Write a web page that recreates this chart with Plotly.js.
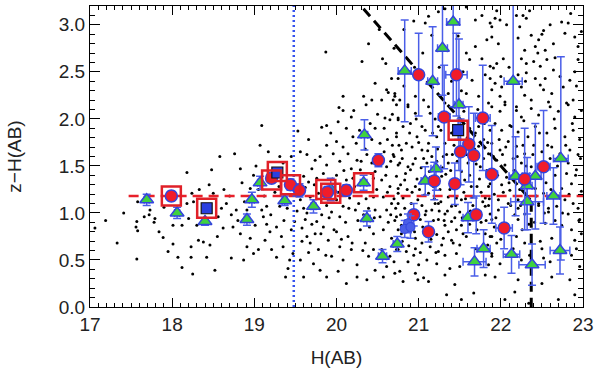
<!DOCTYPE html>
<html><head><meta charset="utf-8">
<script src="https://cdn.plot.ly/plotly-3.0.1.min.js"></script>
<style>html,body{margin:0;padding:0;background:#fff}#chart{width:600px;height:380px}</style>
</head><body><div id="chart"></div>
<script>
// ---- background galaxies (H, z-H) ----
const bgLeft = [[17.06,0.84],[17.19,0.92],[17.33,0.68],[17.41,1.0],[17.57,0.51],[17.57,0.91],[17.56,0.85],[17.58,0.81],[17.58,1.12],[17.66,0.96],[17.72,0.98],[17.73,1.03],[17.79,0.94],[17.78,0.90],[17.84,0.80],[17.89,0.74],[17.95,0.59],[17.90,1.06],[18.01,0.87],[18.01,0.67],[18.07,0.53],[18.12,0.42],[18.12,0.87],[18.18,1.43],[18.18,1.10],[18.2,0.94],[18.23,0.64],[18.23,0.53],[18.25,0.35],[18.24,1.21],[18.26,1.12],[18.30,0.87],[18.32,0.71],[18.33,1.25],
[18.5,1.21],[18.56,0.96],[18.60,1.05],[18.66,1.10],[18.72,0.98],[18.74,0.85],[18.83,0.78],[18.95,0.73],[18.99,0.57],[19.05,0.61],[18.52,0.39],[18.42,0.53],[18.38,0.69],[18.87,0.50],[18.72,0.52],[18.62,0.84],[18.78,1.03],[18.91,1.03],[18.95,1.26],[18.83,1.47],[18.85,1.32],[18.99,1.40],[18.58,1.60],[18.48,1.46],[18.46,0.66],[18.91,0.64],[19.01,0.87],[18.63,1.25],[18.70,1.18],[18.45,1.30],[18.88,1.12],[18.55,0.75],[18.80,0.92],[18.76,1.63],[19.07,1.72],[19.09,1.93]];
const bgMidA = [[19.17,1.65],[19.31,1.60],[19.35,1.53],[19.11,0.96],[19.19,0.80],[19.27,0.85],[19.33,0.75],[19.35,0.64],[19.43,0.50],[19.41,0.41],[19.38,0.32],[19.47,0.57],[19.13,0.71],[19.21,0.61],[19.27,0.53],[19.09,1.03],[19.15,1.07],[19.45,0.82],[19.49,0.91],[19.31,1.07],[19.05,1.25],[19.12,1.18],[19.25,1.22],[19.40,1.05],[19.20,0.98],[19.36,0.92],[19.15,0.88],[19.02,1.50],[19.45,1.60],[19.30,1.28]];
const bgMidB = [[19.56,1.65],[19.64,1.62],[19.74,1.56],[19.70,1.47],[19.80,1.60],[19.88,1.51],[19.96,1.63],[20.04,1.55],[20.14,1.63],[20.18,1.47],[20.25,1.56],[20.29,1.46],[20.37,1.62],[20.43,1.53],[20.47,1.44],[19.60,1.39],[19.66,1.33],[19.76,1.37],[19.84,1.42],[20.0,1.40],[20.12,1.35],[20.20,1.37],[20.45,1.37],
[19.56,1.14],[19.60,1.05],[19.64,1.00],[19.68,1.17],[19.78,1.21],[19.82,0.98],[19.88,1.08],[19.94,1.01],[20.0,1.14],[20.04,0.96],[20.08,1.07],[20.16,1.16],[20.23,1.03],[20.27,1.10],[20.33,0.98],[20.39,1.05],[20.45,1.17],[20.47,1.03],[19.62,0.93],[19.76,0.91],
[19.58,0.84],[19.64,0.75],[19.68,0.68],[19.74,0.78],[19.78,0.61],[19.84,0.85],[19.90,0.71],[19.94,0.54],[20.0,0.80],[20.04,0.64],[20.08,0.50],[20.14,0.75],[20.18,0.61],[20.25,0.45],[20.29,0.82],[20.35,0.68],[20.39,0.54],[20.45,0.78],[20.47,0.39],[19.72,0.46],[19.80,0.39],[19.88,0.32],[20.02,0.38],[20.12,0.25],[19.56,0.50],[19.60,0.32],[20.25,0.32],[20.37,0.29],[20.45,0.61]];
const bgMidUp = [[19.53,1.87],[19.88,1.93],[19.82,1.91],[20.02,1.97],[20.08,2.24],[20.03,2.12],[20.08,2.09],[20.21,2.09],[20.18,2.02],[20.2,1.81],[20.31,2.61],[20.39,2.80],[20.33,2.24],[20.43,2.20],[20.47,2.38],[19.87,2.71],[19.88,1.72],[20.0,1.76],[20.08,1.70],[20.43,1.78],[20.53,1.74],[20.73,1.85],[20.36,2.15],[20.41,1.95],[20.28,1.88],[20.47,1.90],
[20.56,2.64],[20.6,2.59],[20.67,2.43],[20.61,2.31],[20.63,2.28],[20.71,2.27],[20.69,2.20],[20.73,2.15],[20.59,2.01],[20.65,1.99],[20.75,2.01],[20.58,1.65],[20.62,1.78],[20.68,1.72],[20.7,1.6]];
const bgCore = [[20.53,1.60],[20.61,1.49],[20.69,1.62],[20.75,1.51],[20.55,1.35],[20.65,1.28],[20.73,1.39],[20.57,1.17],[20.67,1.10],[20.75,1.21],[20.53,0.96],[20.61,1.03],[20.71,0.92],[20.57,0.82],[20.67,0.73],[20.75,0.82],[20.55,0.61],[20.65,0.54],[20.73,0.61],[20.61,0.43],[20.71,0.36],[20.57,0.32],
[20.75,1.99],[20.81,1.92],[20.73,1.81],[20.85,1.74],[20.79,1.67],[20.92,1.70],[20.98,1.81],[21.04,1.67],[20.96,1.58],[20.77,1.53],[20.87,1.49],[20.90,1.46],[21.10,1.53],[21.16,1.60],[21.12,1.74],[21.22,1.81],[21.08,1.88],[20.96,2.06],[20.87,2.13],[21.14,2.06],[21.24,1.92],[21.32,1.74],[21.36,1.53],[21.28,1.39],[21.12,1.21],[20.96,1.28],[20.83,1.35],[20.75,1.26],[21.26,1.25],[21.52,1.44],[21.60,1.53],[21.75,1.49],[21.85,1.63],[21.79,1.78],[21.69,1.85],[21.87,1.88],[21.56,1.35],[21.71,1.28],[21.85,1.28],[21.36,1.17],[21.65,1.17],[20.81,1.16],[20.99,1.14],[21.20,1.10],[21.52,1.14],[21.81,1.16],[21.89,1.39],[21.42,1.33],[21.73,1.71],[21.30,1.60]];
const bgUpRight = [[20.94,3.04],[21.08,3.02],[21.12,3.09],[21.24,3.14],[21.32,3.17],[21.16,2.89],[21.58,3.19],[21.69,3.05],[21.77,3.10],[21.89,2.98],[21.83,2.84],[21.69,2.77],[21.58,2.70],[21.62,2.63],[21.77,2.64],[21.87,2.56],[21.81,2.47],[20.75,2.43],[20.71,2.24],[20.77,2.20],[20.87,2.15],[20.96,2.24],[21.06,2.20],[21.12,2.13],[21.32,2.17],[21.36,2.27],[21.58,2.27],[21.73,2.24],[21.85,2.17],[21.65,2.41],[21.54,2.50],
[21.87,3.02],[21.93,3.07],[21.99,3.05],[22.07,3.0],[22.19,3.10],[22.27,3.10],[22.31,3.07],[22.23,2.98],[21.97,2.80],[21.89,2.87],[22.21,2.86],[22.37,2.89],[22.46,2.84],[22.52,2.94],[22.60,3.0],[22.74,3.03],[22.82,3.02],[22.90,2.87],[22.78,2.91],[22.64,2.80],[22.54,2.73],[22.42,2.77],[22.29,2.73],[22.25,2.64],[22.31,2.59],[22.40,2.61],[22.48,2.56],[22.56,2.63],[22.64,2.52],[22.54,2.43],[22.42,2.43],[22.31,2.49],[22.21,2.47],[22.03,2.64],[21.95,2.59],[21.91,2.54],[21.87,2.43],[21.93,2.38],[22.01,2.34],[21.89,2.31],[21.99,2.24],[22.05,2.18],[22.25,2.34],[22.29,2.25],[22.37,2.20],[22.48,2.36],[22.52,2.31],[22.62,2.27],[22.76,2.34],[22.84,2.41],[22.90,2.50],[22.88,2.20],[22.80,2.17],[22.94,2.63],[22.94,2.77],[22.98,2.93],[22.58,2.18],[22.19,2.13]];
const bgRightMid = [[21.89,2.13],[21.99,2.08],[22.05,2.15],[22.19,2.09],[22.25,2.02],[22.37,2.11],[22.46,2.04],[22.60,2.13],[22.70,2.08],[22.82,2.15],[22.90,2.02],[22.98,2.09],[21.93,1.95],[22.01,1.88],[22.11,1.93],[22.21,1.86],[22.33,1.81],[22.42,1.92],[22.56,1.85],[22.66,1.90],[22.78,1.81],[22.88,1.88],[22.96,1.78],[21.89,1.74],[21.99,1.67],[22.09,1.76],[22.19,1.71],[22.29,1.63],[22.40,1.72],[22.50,1.65],[22.62,1.70],[22.72,1.63],[22.84,1.67],[22.94,1.62],[21.95,1.56],[22.05,1.51],[22.15,1.58],[22.25,1.53],[22.37,1.49],[22.60,1.58],[22.82,1.53],[22.92,1.46],[21.87,1.31],[22.01,1.30],[22.11,1.24],[22.42,1.26],[22.52,1.21],[22.74,1.26],[22.86,1.31],[22.98,1.23],[21.97,1.14],[22.21,1.14],[22.46,1.10],[22.78,1.14]];
const bgLow = [[20.75,1.10],[20.83,1.05],[21.04,1.08],[21.16,1.03],[21.24,1.10],[21.32,0.99],[21.40,1.07],[21.50,1.01],[21.81,1.07],[21.87,0.99],[20.73,0.96],[20.79,0.87],[21.02,0.93],[21.08,0.98],[21.24,0.93],[21.32,0.87],[21.40,0.91],[21.46,0.82],[21.52,0.87],[21.22,0.77],[21.30,0.73],[21.40,0.71],[21.50,0.66],[21.58,0.75],[20.96,0.73],[21.04,0.68],[20.79,0.78],[20.75,0.61],[20.85,0.59],[20.96,0.62],[21.14,0.64],[21.24,0.59],[21.32,0.55],[21.46,0.57],[20.87,0.48],[21.0,0.45],[21.10,0.50],[21.22,0.46],[21.38,0.41],[21.50,0.43],[21.85,0.45],[20.77,0.38],[20.96,0.36],[21.06,0.31],[21.32,0.34],[20.81,0.27],[20.99,0.29],[21.12,0.27],[21.44,0.24],[21.67,0.15],[21.52,0.08],[21.34,0.13],[21.81,0.34],[21.89,0.57],[21.89,0.75],[21.81,0.78],
[21.85,1.08],[21.97,1.03],[22.09,1.10],[22.21,1.05],[22.29,0.99],[22.46,1.08],[22.58,1.01],[22.68,1.07],[22.82,0.99],[22.94,1.05],[21.89,0.93],[22.21,0.93],[22.54,0.89],[22.74,0.87],[22.86,0.82],[22.96,0.93],[21.87,0.75],[21.95,0.68],[22.19,0.75],[22.29,0.68],[22.48,0.70],[22.62,0.73],[22.90,0.71],[22.98,0.78],[21.89,0.54],[21.99,0.46],[22.25,0.50],[22.52,0.52],[22.86,0.55],[22.96,0.43],[21.93,0.32],[22.21,0.29],[22.62,0.32],[22.84,0.29],[22.17,0.16],[22.50,0.25],[22.90,0.13],[22.05,0.08],[22.70,0.08],[22.34,0.04]];
const bgExtra = [[20.62,1.22],[20.70,1.15],[20.78,1.30],[20.84,1.42],[20.92,1.22],[20.98,1.36],[21.03,1.48],[21.07,1.19],[21.13,1.44],[21.18,1.28],[21.22,1.55],[21.27,1.12],[21.33,1.41],[21.38,1.25],[21.41,1.62],[21.46,1.16],[21.55,1.22],[21.58,1.62],[21.62,1.40],[21.66,1.08],[21.70,1.52],[21.74,1.36],[21.78,1.12],[21.83,1.45],[21.92,1.20],[21.96,1.40],[22.02,1.62],[22.07,1.38],[22.12,1.08],[22.16,1.45],[22.23,1.25],[22.27,1.72],[22.35,1.15],[22.44,1.40],[22.55,1.32],[22.58,1.05],[22.66,1.40],[22.70,1.18],[22.80,1.42],[22.88,1.10],[20.66,0.98],[20.80,0.70],[20.88,0.92],[20.94,0.55],[21.05,0.85],[21.18,0.92],[21.28,0.66],[21.36,0.80],[21.44,0.95],[21.54,0.78],[21.62,0.88],[21.70,0.62],[21.76,0.90],[21.84,0.66],[21.92,0.85],[22.00,0.72],[22.08,0.88],[22.15,0.62],[22.26,0.82],[22.35,0.55],[22.41,0.90],[22.50,0.62],[22.60,0.48],[22.66,0.92],[22.78,0.58],[22.92,0.62],[20.90,1.95],[21.00,1.75],[21.20,2.00],[21.40,1.85],[21.55,2.08],[21.62,1.90],[21.72,2.10],[21.80,1.95],[22.00,2.45],[22.10,2.55],[22.30,2.40],[22.45,2.70],[22.66,2.65],[22.72,2.45],[22.92,2.35],[22.50,2.90],[22.35,3.15],[22.85,3.12],[21.95,3.15],[21.48,2.88],[21.05,2.70],[20.95,2.55],[21.25,2.55],[21.40,2.40],[21.52,2.30],[20.70,2.75],[20.82,2.95],[20.52,2.95]];
const bgMore = [[19.52,1.02],[19.58,0.70],[19.62,1.27],[19.66,0.58],[19.70,0.88],[19.73,1.30],[19.77,1.05],[19.81,0.78],[19.85,1.18],[19.87,0.55],[19.91,0.95],[19.95,1.36],[19.97,0.82],[20.02,1.22],[20.06,0.72],[20.09,1.45],[20.11,0.90],[20.15,1.05],[20.19,0.68],[20.22,1.28],[20.26,0.92],[20.30,1.55],[20.32,0.60],[20.36,1.15],[20.40,0.85],[20.42,1.42],[20.46,0.95],[20.49,1.25],[19.66,1.78],[19.93,1.85],[20.12,1.90],[20.24,1.74],[20.35,1.68],[20.50,2.05],[20.55,2.20],[20.58,1.90],[20.60,1.40],[20.63,0.90],[20.66,1.55],[20.68,2.05],[20.70,0.48],[20.72,1.05],[20.76,1.72],[20.78,0.98],[20.80,1.58],[20.82,2.35],[20.86,1.25],[20.88,0.65],[20.89,1.85],[20.91,1.10],[20.93,1.52],[20.95,0.80],[20.97,2.00],[21.01,1.25],[21.02,0.58],[21.04,1.92],[21.06,1.58],[21.09,1.02],[21.11,1.66],[21.14,1.38],[21.15,0.72],[21.17,1.85],[21.19,1.15],[21.21,0.58],[21.23,1.68],[21.25,1.02],[21.27,1.88],[21.29,1.48],[21.31,0.92],[21.34,1.62],[21.35,1.02],[21.37,2.05],[21.39,1.45],[21.42,0.68],[21.43,1.72],[21.45,1.08],[21.47,1.55],[21.50,1.90],[21.53,0.95],[21.54,1.62],[21.57,1.15],[21.59,1.80],[21.63,1.02],[21.64,1.28],[21.68,1.68],[21.71,0.82],[21.73,1.92],[21.76,1.22],[21.79,1.58],[21.82,0.92],[21.84,1.75],[21.86,1.15],[21.91,1.60],[21.94,0.95],[21.98,1.78],[22.03,1.22],[22.06,1.70],[22.10,1.32],[22.13,1.92],[22.17,0.98],[22.20,1.60],[22.24,1.08],[22.28,1.98],[22.31,1.50],[22.34,0.88],[22.39,1.62],[22.43,1.18],[22.47,1.85],[22.53,1.00],[22.57,1.72],[22.61,1.25],[22.65,2.00],[22.69,1.50],[22.75,1.00],[22.79,1.72],[22.83,1.20],[22.87,1.95],[22.91,1.40],[22.95,0.92],[22.97,1.58]];

// ---- green triangles: H, z-H, y error, x error ----
const triH   = [17.69,18.06,18.40,18.91,18.97,19.07,19.37,19.72,19.93,20.33,20.37,20.34,20.56,20.74,20.83,21.17,21.29,21.42,21.49,22.15,22.73,21.21,21.08,22.18,22.32,22.42,22.64,22.32,21.60,21.79,21.68,22.13,22.38,22.72];
const triZH  = [1.14,1.00,0.91,0.93,1.14,1.32,1.13,1.07,1.25,1.32,0.94,1.83,0.54,0.67,2.51,2.40,2.75,3.03,2.15,2.40,1.58,1.47,1.34,1.39,1.29,1.39,1.18,1.12,0.95,0.62,0.48,0.56,0.45,0.60];
const triEY  = [0.06,0.06,0.04,0.06,0.08,0.07,0.05,0.07,0.12,0.08,0.08,0.16,0.07,0.08,0.54,0.58,0.50,0.90,0.70,1.00,1.08,0.23,0.15,0.42,0.30,0.56,0.30,0.30,0.16,0.20,0.15,0.20,0.22,0.25];
const triEX  = [0.03,0.03,0.03,0.03,0.03,0.03,0.03,0.03,0.04,0.04,0.04,0.04,0.05,0.05,0.08,0.06,0.06,0.08,0.05,0.11,0.09,0.06,0.05,0.08,0.06,0.07,0.08,0.20,0.06,0.08,0.14,0.10,0.16,0.12];
// ---- red circles ----
const cirH  = [17.99,19.21,19.44,19.55,19.89,20.12,20.51,21.00,21.46,21.31,21.78,21.61,21.51,21.67,21.89,21.19,21.44,22.29,22.52,20.94,21.12,21.70,22.04];
const cirZH = [1.18,1.37,1.30,1.24,1.22,1.24,1.56,2.47,2.47,2.02,2.01,1.73,1.65,1.61,1.41,1.34,1.31,1.36,1.49,0.98,0.80,0.98,0.84];
const cirEY = [0.05,0.05,0.06,0.07,0.06,0.06,0.07,0.44,0.44,0.55,0.56,0.40,0.35,0.45,0.52,0.20,0.22,0.54,0.60,0.12,0.11,0.20,0.22];
const cirEX = [0.03,0.03,0.03,0.03,0.03,0.03,0.03,0.04,0.13,0.07,0.09,0.05,0.05,0.05,0.07,0.05,0.06,0.07,0.08,0.05,0.05,0.06,0.10];
// ---- blue points cluster ----
const bluH  = [20.87,20.83,20.90];
const bluZH = [0.89,0.83,0.85];
const bluEY = [0.10,0.09,0.12];
const bluEX = [0.04,0.04,0.04];
// ---- blue filled squares ----
const sqH  = [18.42,19.28,21.48];
const sqZH = [1.05,1.43,1.88];
const sqEY = [0.04,0.05,0.10];
// ---- red open squares ----
const boxH  = [17.99,18.42,19.21,19.28,19.44,19.87,19.93,20.33,21.48];
const boxZH = [1.18,1.05,1.35,1.44,1.30,1.25,1.21,1.32,1.88];
// ---- reference lines ----
const redLineH = [17.47,23.0], redLineZH = [1.18,1.18];
const blueLineH = [19.48,19.48], blueLineZH = [0,3.2];
const cutH = [20.2,22.37,22.37], cutZH = [3.3,1.13,0];
const xTicks = [17,18,19,20,21,22,23];
const yTicks = [0,0.5,1,1.5,2,2.5,3];
const xRange = [17,23], yRange = [0,3.2];

const bg = [].concat(bgLeft,bgMidA,bgMidB,bgMidUp,bgCore,bgUpRight,bgRightMid,bgLow,bgExtra,bgMore);
const EB = '#4a5ee8';
const traces = [
 {x:bg.map(p=>p[0]), y:bg.map(p=>p[1]), type:'scatter', mode:'markers', marker:{size:3,color:'#000'}, hoverinfo:'skip'},
 {x:redLineH, y:redLineZH, type:'scatter', mode:'lines', line:{color:'#e8202a',width:2.5,dash:'10px,6px'}},
 {x:blueLineH, y:blueLineZH, type:'scatter', mode:'lines', line:{color:'#3552ee',width:2.5,dash:'2px,3px'}},
 {x:cutH, y:cutZH, type:'scatter', mode:'lines', line:{color:'#000',width:3,dash:'10px,6px'}},
 {x:triH, y:triZH, type:'scatter', mode:'markers',
  error_y:{type:'data',array:triEY,color:EB,thickness:1.5,width:4},
  error_x:{type:'data',array:triEX,color:EB,thickness:1.5,width:4},
  marker:{symbol:'triangle-up',size:12,color:'#3fd13f',line:{color:'#3344dd',width:1.5}}},
 {x:cirH, y:cirZH, type:'scatter', mode:'markers',
  error_y:{type:'data',array:cirEY,color:EB,thickness:1.5,width:4},
  error_x:{type:'data',array:cirEX,color:EB,thickness:1.5,width:4},
  marker:{symbol:'circle',size:12,color:'#f01c2a',line:{color:'#3344dd',width:1.5}}},
 {x:bluH, y:bluZH, type:'scatter', mode:'markers',
  error_y:{type:'data',array:bluEY,color:EB,thickness:1.5,width:4},
  error_x:{type:'data',array:bluEX,color:EB,thickness:1.5,width:4},
  marker:{symbol:'circle',size:9,color:'#4a5ee8',line:{color:'#3344dd',width:1}}},
 {x:sqH, y:sqZH, type:'scatter', mode:'markers',
  error_y:{type:'data',array:sqEY,color:EB,thickness:1.5,width:4},
  marker:{symbol:'square',size:11,color:'#2a40e0',line:{color:'#111',width:1.2}}},
 {x:boxH, y:boxZH, type:'scatter', mode:'markers',
  marker:{symbol:'square-open',size:19,color:'#e02028',line:{width:2.5}}},
 {x:[xRange[0]], y:[yRange[0]], xaxis:'x2', yaxis:'y2', type:'scatter', mode:'markers', marker:{opacity:0}, hoverinfo:'skip'}
];
const F = {family:'"Liberation Sans", Arial, sans-serif', size:19, color:'#222'};
const base = {showgrid:false, zeroline:false, showline:true, linecolor:'#000', linewidth:1,
  ticks:'inside', tickcolor:'#000', tickwidth:1, tickfont:F};
const xMinor = {dtick:0.1, tick0:17, ticklen:4, ticks:'inside', tickcolor:'#000', showgrid:false};
const yMinor = {dtick:0.1, tick0:0, ticklen:5, ticks:'inside', tickcolor:'#000', showgrid:false};
const layout = {
  width:600, height:380, showlegend:false,
  margin:{l:90,r:17,t:6,b:73},
  paper_bgcolor:'#fff', plot_bgcolor:'#fff',
  xaxis:Object.assign({}, base, {range:xRange, tickvals:xTicks, ticklen:9, mirror:true, minor:xMinor,
     title:{text:'H(AB)', font:F, standoff:16}}),
  yaxis:Object.assign({}, base, {range:yRange, tickvals:yTicks, tickformat:'.1f', ticklen:10, mirror:true, minor:yMinor,
     title:{text:'z−H(AB)', font:F, standoff:32}}),
  xaxis2:Object.assign({}, base, {overlaying:'x', side:'top', range:xRange, tickvals:xTicks, ticklen:9, showticklabels:false, minor:xMinor}),
  yaxis2:Object.assign({}, base, {overlaying:'y', side:'right', range:yRange, tickvals:yTicks, ticklen:10, showticklabels:false, minor:yMinor})
};
Plotly.newPlot('chart', traces, layout, {staticPlot:true, displayModeBar:false});
</script></body></html>
